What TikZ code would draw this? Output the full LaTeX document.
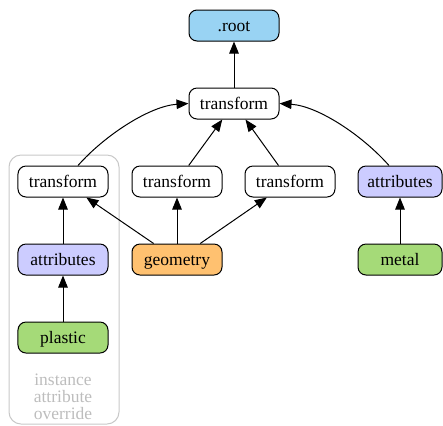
\documentclass[tikz,border=0pt]{standalone}
\usepackage{fontspec}
\setmainfont{Liberation Serif}
\usetikzlibrary{arrows.meta}
\definecolor{rootblue}{HTML}{99D3F3}
\definecolor{attrblue}{HTML}{CCCCFF}
\definecolor{geoorange}{HTML}{FFC170}
\definecolor{matgreen}{HTML}{A5DA78}
\definecolor{clustergray}{HTML}{C8C8C8}
\definecolor{notegray}{HTML}{BDBDBD}
\tikzset{
  box/.style={draw=black, line width=1bp, rounded corners=8bp, minimum width=90bp, minimum height=31bp, inner sep=0pt, text height=14bp, text depth=3bp, font=\fontsize{17.5bp}{20bp}\selectfont},
  narrow/.style={minimum width=84bp},
  arr/.style={-{Triangle[length=12bp,width=9.5bp]}, line width=1bp, black},
}
\begin{document}
\begin{tikzpicture}[x=1bp,y=-1bp]
\useasboundingbox (0,0) rectangle (443,425);
\draw[clustergray, line width=1bp, rounded corners=12bp] (9,155) rectangle (119,424);
\node[box, fill=rootblue] (root) at (234,25.5) {.root};
\node[box, fill=white] (top) at (234,103.5) {transform};
\node[box, fill=white] (t1) at (63,181.5) {transform};
\node[box, fill=white] (t2) at (177,181.5) {transform};
\node[box, fill=white] (t3) at (290,181.5) {transform};
\node[box, narrow, fill=attrblue] (ar) at (400,181.5) {attributes};
\node[box, fill=attrblue] (al) at (63,259.5) {attributes};
\node[box, fill=geoorange] (geo) at (177,259.5) {geometry};
\node[box, narrow, fill=matgreen] (metal) at (400,259.5) {metal};
\node[box, fill=matgreen] (plastic) at (63,337.5) {plastic};
\node[text=notegray, align=center, font=\fontsize{17.5bp}{17bp}\selectfont, inner sep=0pt] (note) at (63,397) {instance\\attribute\\override};
\draw[arr] (top) -- (root);
\draw[arr] ([xshift=15bp]t1.north) .. controls (105,135) and (150,106) .. (top.west);
\draw[arr] ([xshift=-11bp]ar.north) .. controls (362,135) and (318,106) .. (top.east);
\draw[arr] (t2) -- (top);
\draw[arr] (t3) -- (top);
\draw[arr] (geo) -- (t1);
\draw[arr] (geo) -- (t2);
\draw[arr] (geo) -- (t3);
\draw[arr] (al) -- (t1);
\draw[arr] (plastic) -- (al);
\draw[arr] (metal) -- (ar);
\end{tikzpicture}
\end{document}
